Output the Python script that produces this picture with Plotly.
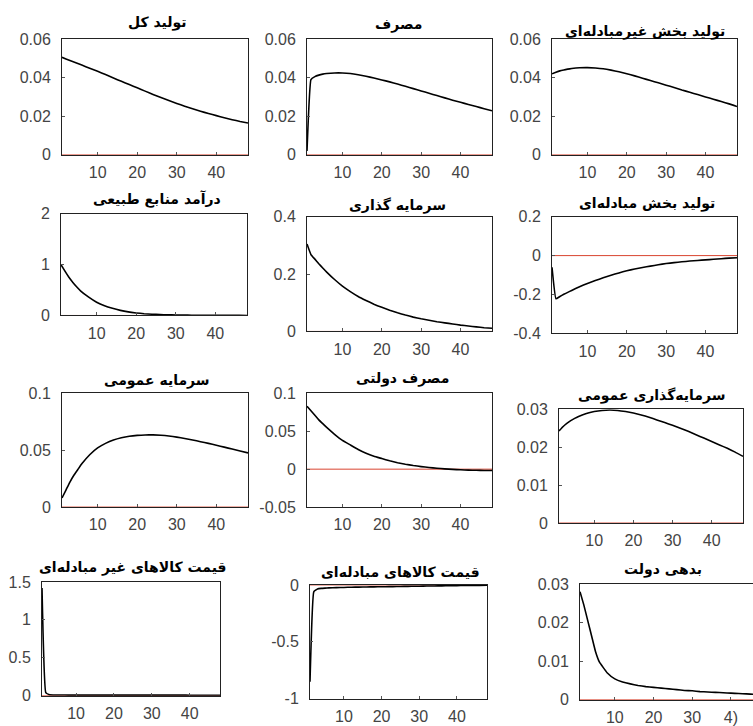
import plotly.graph_objects as go

W, H = 753, 726

periods = [1, 2, 3, 4, 5, 6, 8, 10, 12, 14, 16, 18, 20, 22, 24, 26, 28, 30, 32, 34, 36, 38, 40, 42, 44, 46, 48]

titles = [
    "تولید کل", "مصرف", "تولید بخش غیرمبادله\u200cای",
    "درآمد منابع طبیعی", "سرمایه گذاری", "تولید بخش مبادله\u200cای",
    "سرمایه عمومی", "مصرف دولتی", "سرمایه\u200cگذاری عمومی",
    "قیمت کالاهای غیر مبادله\u200cای", "قیمت کالاهای مبادله\u200cای", "بدهی دولت",
]

total_output = [0.0505, 0.0497, 0.0489, 0.0481, 0.0473, 0.0465, 0.0449, 0.0433, 0.0416, 0.0398, 0.0381, 0.0364, 0.0347, 0.0330, 0.0313, 0.0297, 0.0281, 0.0266, 0.0252, 0.0239, 0.0226, 0.0214, 0.0203, 0.0192, 0.0182, 0.0173, 0.0165]
consumption = [0.002, 0.039, 0.0405, 0.0413, 0.0418, 0.0421, 0.0424, 0.0424, 0.0421, 0.0415, 0.0407, 0.0398, 0.0388, 0.0378, 0.0367, 0.0355, 0.0343, 0.0331, 0.0319, 0.0307, 0.0295, 0.0283, 0.0272, 0.0261, 0.0250, 0.0239, 0.0228]
nontradable_output = [0.0420, 0.0428, 0.0435, 0.0440, 0.0444, 0.0447, 0.0451, 0.0452, 0.0450, 0.0446, 0.0439, 0.0430, 0.0420, 0.0409, 0.0397, 0.0385, 0.0373, 0.0361, 0.0349, 0.0336, 0.0324, 0.0312, 0.0300, 0.0288, 0.0276, 0.0264, 0.0250]
resource_income = [1.0, 0.87, 0.75, 0.65, 0.56, 0.48, 0.36, 0.26, 0.19, 0.14, 0.10, 0.07, 0.05, 0.035, 0.025, 0.018, 0.013, 0.009, 0.007, 0.005, 0.004, 0.003, 0.002, 0.0015, 0.001, 0.001, 0.0005]
investment = [0.305, 0.268, 0.252, 0.236, 0.221, 0.207, 0.181, 0.158, 0.139, 0.122, 0.108, 0.095, 0.084, 0.074, 0.065, 0.057, 0.050, 0.044, 0.039, 0.034, 0.030, 0.026, 0.022, 0.019, 0.016, 0.013, 0.011]
tradable_output = [-0.06, -0.222, -0.210, -0.199, -0.189, -0.179, -0.160, -0.143, -0.128, -0.114, -0.101, -0.089, -0.078, -0.069, -0.061, -0.054, -0.047, -0.041, -0.036, -0.032, -0.028, -0.025, -0.022, -0.019, -0.016, -0.013, -0.011]
public_capital = [0.008, 0.015, 0.022, 0.028, 0.033, 0.038, 0.046, 0.052, 0.056, 0.059, 0.061, 0.0623, 0.0630, 0.0634, 0.0635, 0.0632, 0.0625, 0.0615, 0.0603, 0.0590, 0.0575, 0.0560, 0.0544, 0.0527, 0.0510, 0.0493, 0.0476]
gov_consumption = [0.083, 0.077, 0.071, 0.065, 0.060, 0.055, 0.046, 0.038, 0.032, 0.026, 0.021, 0.017, 0.014, 0.011, 0.0085, 0.0065, 0.0048, 0.0034, 0.0022, 0.0012, 0.0004, -0.0003, -0.0008, -0.0012, -0.0015, -0.0017, -0.0018]
public_investment = [0.0243, 0.0254, 0.0263, 0.0270, 0.0276, 0.0281, 0.0289, 0.0294, 0.0297, 0.0298, 0.0297, 0.0294, 0.0290, 0.0285, 0.0279, 0.0272, 0.0265, 0.0258, 0.0250, 0.0242, 0.0233, 0.0224, 0.0215, 0.0206, 0.0197, 0.0187, 0.0176]
nontradable_price = [1.42, 0.04, 0.012, 0.010, 0.009, 0.009, 0.008, 0.008, 0.008, 0.008, 0.008, 0.008, 0.008, 0.008, 0.008, 0.008, 0.008, 0.008, 0.008, 0.008, 0.008, 0.008, 0.007, 0.007, 0.007, 0.007, 0.007]
tradable_price = [-0.85, -0.06, -0.035, -0.030, -0.028, -0.026, -0.024, -0.022, -0.020, -0.019, -0.018, -0.017, -0.016, -0.015, -0.014, -0.013, -0.012, -0.011, -0.010, -0.009, -0.008, -0.007, -0.006, -0.005, -0.004, -0.004, -0.003]
gov_debt = [0.0280, 0.0245, 0.0205, 0.0165, 0.0125, 0.0098, 0.0070, 0.0054, 0.0046, 0.0041, 0.0037, 0.0034, 0.0032, 0.0030, 0.0028, 0.0026, 0.0024, 0.0023, 0.0021, 0.0020, 0.0019, 0.0018, 0.0017, 0.0016, 0.0015, 0.0014, 0.0013]

series = [total_output, consumption, nontradable_output, resource_income, investment, tradable_output,
          public_capital, gov_consumption, public_investment, nontradable_price, tradable_price, gov_debt]

y_ranges = [[0, 0.06], [0, 0.06], [0, 0.06], [0, 2], [0, 0.4], [-0.4, 0.2],
            [0, 0.1], [-0.05, 0.1], [0, 0.03], [0, 1.5], [-1, 0], [0, 0.03]]
y_ticks = [[0, 0.02, 0.04, 0.06], [0, 0.02, 0.04, 0.06], [0, 0.02, 0.04, 0.06], [0, 1, 2], [0, 0.2, 0.4],
           [-0.4, -0.2, 0, 0.2], [0, 0.05, 0.1], [-0.05, 0, 0.05, 0.1], [0, 0.01, 0.02, 0.03],
           [0, 0.5, 1, 1.5], [-1, -0.5, 0], [0, 0.01, 0.02, 0.03]]
x_ticks = [10, 20, 30, 40]
x_tick_labels_last = ["10", "20", "30", "4)"]

# pixel boxes: left, right, top, bottom
boxes = [
    (62, 248, 38, 154), (307, 492, 38, 154), (552, 737, 38, 154),
    (61, 247, 213, 315), (307, 492, 216, 331), (552, 737, 216, 333),
    (62, 248, 393, 507), (307, 492, 393, 507), (559, 743, 409, 523),
    (42, 220, 582, 696), (310, 487, 585, 699), (580, 753, 584, 700),
]
title_pos = [(157, 21), (398, 23), (645, 30), (157, 198), (397, 205), (647, 203),
             (157, 380), (402, 378), (652, 395), (133, 568), (400, 572), (663, 570)]


def vy(p):
    # vertical placement correction (pixel from top -> paper fraction)
    return 1 - ((p - 6.9) / 0.9758) / H


fig = go.Figure()
tick_font = dict(family="Liberation Sans, Arial, sans-serif", size=16, color="#444444")

for i in range(12):
    n = "" if i == 0 else str(i + 1)
    xa, ya = "x" + n, "y" + n
    l, r, t, b = boxes[i]
    xmax = 48 if i != 11 else 45.7
    fig.add_trace(go.Scatter(x=[1, 48], y=[0, 0], mode="lines", line=dict(color="#d9442f", width=1),
                             xaxis=xa, yaxis=ya, showlegend=False, hoverinfo="skip"))
    fig.add_trace(go.Scatter(x=periods, y=series[i], mode="lines", line=dict(color="black", width=1.6, shape="spline", smoothing=0.3),
                             xaxis=xa, yaxis=ya, showlegend=False))
    fig.layout["xaxis" + n] = dict(
        domain=[l / W, r / W], anchor=ya, range=[1, xmax],
        tickvals=x_ticks, ticktext=(x_tick_labels_last if i == 11 else [str(v) for v in x_ticks]),
        ticks="inside", ticklen=3, tickcolor="#555", showgrid=False, zeroline=False,
        showline=True, linecolor="#222", linewidth=1, mirror=True,
        tickfont=tick_font, fixedrange=True, ticklabelstandoff=3,
    )
    fig.layout["yaxis" + n] = dict(
        domain=[max(0, vy(b)), min(1, vy(t))], anchor=xa, range=y_ranges[i],
        tickvals=y_ticks[i], ticktext=[("%g" % v) for v in y_ticks[i]],
        ticks="inside", ticklen=3, tickcolor="#555", showgrid=False, zeroline=False,
        showline=True, linecolor="#222", linewidth=1, mirror=(i != 11),
        tickfont=tick_font, fixedrange=True, ticklabelstandoff=7,
    )
    fig.add_annotation(text="<b>" + titles[i] + "</b>", x=title_pos[i][0] / W, y=vy(title_pos[i][1]),
                       xref="paper", yref="paper", showarrow=False, xanchor="center", yanchor="middle",
                       font=dict(family="DejaVu Sans, Noto Sans, sans-serif", size=14, color="black"))

fig.update_layout(width=W, height=H, margin=dict(l=0, r=0, t=0, b=0),
                  paper_bgcolor="white", plot_bgcolor="white", showlegend=False)

post = ("document.body.style.margin='0px';"
        "var d=document.getElementById('{plot_id}');"
        "d.style.position='fixed';d.style.top='0px';d.style.left='0px';")
fig.write_html("out.html", config={"displayModeBar": False}, post_script=post)
